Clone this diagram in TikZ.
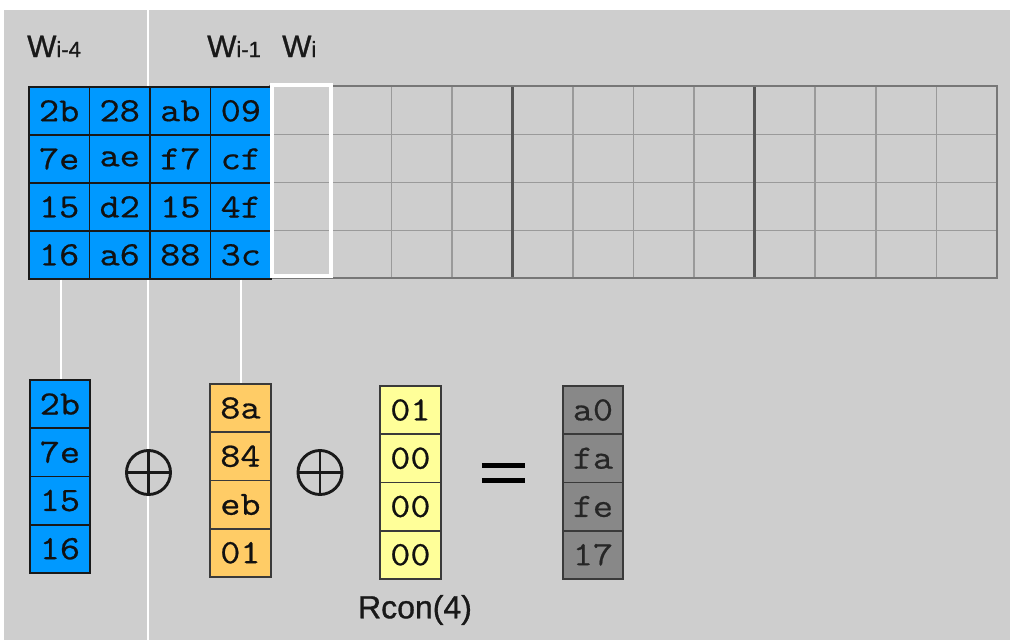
\documentclass[tikz,border=0pt]{standalone}
\usepackage{fontspec}
\setmainfont{Liberation Sans}
\newfontfamily\hexfont{Latin Modern Mono}[FakeStretch=1.15, FakeBold=0.6]
\newfontfamily\labfont{Liberation Sans}[FakeBold=1.0]
\definecolor{bgc}{HTML}{CECECE}
\definecolor{blu}{HTML}{0099FF}
\definecolor{org}{HTML}{FFCC66}
\definecolor{ylw}{HTML}{FFFF99}
\definecolor{dgr}{HTML}{888888}
\definecolor{gline}{HTML}{9A9A9A}
\definecolor{gsep}{HTML}{555555}
\definecolor{gout}{HTML}{777777}
\definecolor{ink}{HTML}{111111}
\definecolor{bord}{HTML}{3A3A3A}
\tikzset{
  hexcell/.style={rectangle, line width=1.8pt, minimum width=60.5pt, minimum height=48pt,
    inner sep=0pt, anchor=north west, font=\fontsize{34}{34}\selectfont\hexfont, text=ink},
  bluecell/.style={hexcell, draw=black!90, fill=blu},
  orgcell/.style={hexcell, draw=bord, fill=org},
  ylwcell/.style={hexcell, draw=bord, fill=ylw},
  grycell/.style={hexcell, draw=bord, fill=dgr, text=black!85},
  wline/.style={draw=white, line width=2.5pt},
  gridthin/.style={draw=gline, line width=1.6pt},
  gridsep/.style={draw=gsep, line width=3pt},
  xorop/.style={circle, draw=black!90, line width=2.9pt, minimum size=44pt, inner sep=0pt},
  wlabel/.style={anchor=base west, inner sep=0pt, text=black!90},
}
\newcommand{\bigwsz}{\fontsize{31}{31}\selectfont}
\newcommand{\subsz}{\fontsize{22}{22}\selectfont}
\begin{document}
\begin{tikzpicture}[x=1pt,y=-1pt]
\useasboundingbox (0,0) rectangle (1010,640);
\fill[white] (0,0) rectangle (1010,640);
\fill[bgc] (4,10) rectangle (1010,640);

% long vertical white line
\coordinate (vtop) at (148,10);
\coordinate (vbot) at (148,640);
\draw[wline] (vtop) -- (vbot);

% gray grid (columns 4..15)
\foreach \yy in {134.5,182.5,230.5} \draw[gridthin] (270,\yy) -- (997,\yy);
\foreach \i in {5,6,7,9,10,11,13,14,15} \draw[gridthin] ({28+\i*60.56},86) -- ({28+\i*60.56},278);
\foreach \i in {8,12} \draw[gridsep] ({28+\i*60.56},86) -- ({28+\i*60.56},278);
\draw[draw=gout, line width=2.2pt] (270,86) rectangle (997,278);

% blue grid cells
\foreach \t [count=\k from 0] in {2b,28,ab,09,7e,ae,f7,cf,15,d2,15,4f,16,a6,88,3c}{
  \pgfmathtruncatemacro{\cc}{mod(\k,4)}
  \pgfmathtruncatemacro{\rr}{div(\k,4)}
  \node[bluecell] (c-\cc-\rr) at ({28+\cc*60.56},{86+\rr*48}) {\t};
}

% W_i column highlight
\draw[draw=white, line width=4pt] (272,84.5) rectangle (330.5,276);

% labels
\node[wlabel] (l4) at (27,57) {\labfont{\bigwsz W}{\subsz i-4}};
\node[wlabel] (l1) at (207,57) {\labfont{\bigwsz W}{\subsz i-1}};
\node[wlabel] (l0) at (282,57) {\labfont{\bigwsz W}{\subsz i}};

% lower columns
\foreach \t [count=\k from 0] in {2b,7e,15,16}{
  \node[bluecell, minimum width=60pt, minimum height=48.25pt] (lb-\k) at (29,{379+\k*48.25}) {\t};
}
\foreach \t [count=\k from 0] in {8a,84,eb,01}{
  \node[orgcell, minimum width=61pt, minimum height=48.25pt] (lo-\k) at (209,{383+\k*48.25}) {\t};
}
\foreach \t [count=\k from 0] in {01,00,00,00}{
  \node[ylwcell, minimum width=61pt, minimum height=48.25pt] (ly-\k) at (379,{385+\k*48.25}) {\t};
}
\foreach \t [count=\k from 0] in {a0,fa,fe,17}{
  \node[grycell, minimum width=60pt, minimum height=48.25pt] (lg-\k) at (562,{385+\k*48.25}) {\t};
}

% connectors from grid to lower columns
\draw[wline] (c-0-3.south -| 61,0) -- (lb-0.north -| 61,0);
\draw[wline] (c-3-3.south) -- (c-3-3.south |- lo-0.north);

% xor operators
\node[xorop] (op1) at (148.5,472.5) {};
\draw[line width=2.9pt, black!90] (op1.north) -- (op1.south) (op1.west) -- (op1.east);
\node[xorop] (op2) at (320,472.5) {};
\draw[line width=2.9pt, black!90] (op2.north) -- (op2.south) (op2.west) -- (op2.east);

% equals
\node[minimum width=43pt, minimum height=21pt, inner sep=0pt] (eq) at (503.5,473) {};
\draw[line width=5.5pt, black] ([yshift=-3]eq.north west) -- ([yshift=-3]eq.north east);
\draw[line width=5.5pt, black] ([yshift=3]eq.south west) -- ([yshift=3]eq.south east);

% Rcon label
\node[inner sep=0pt, font=\fontsize{32}{32}\selectfont\labfont, text=black!90] (rcon) at (415,610) {Rcon(4)};
\end{tikzpicture}
\end{document}
